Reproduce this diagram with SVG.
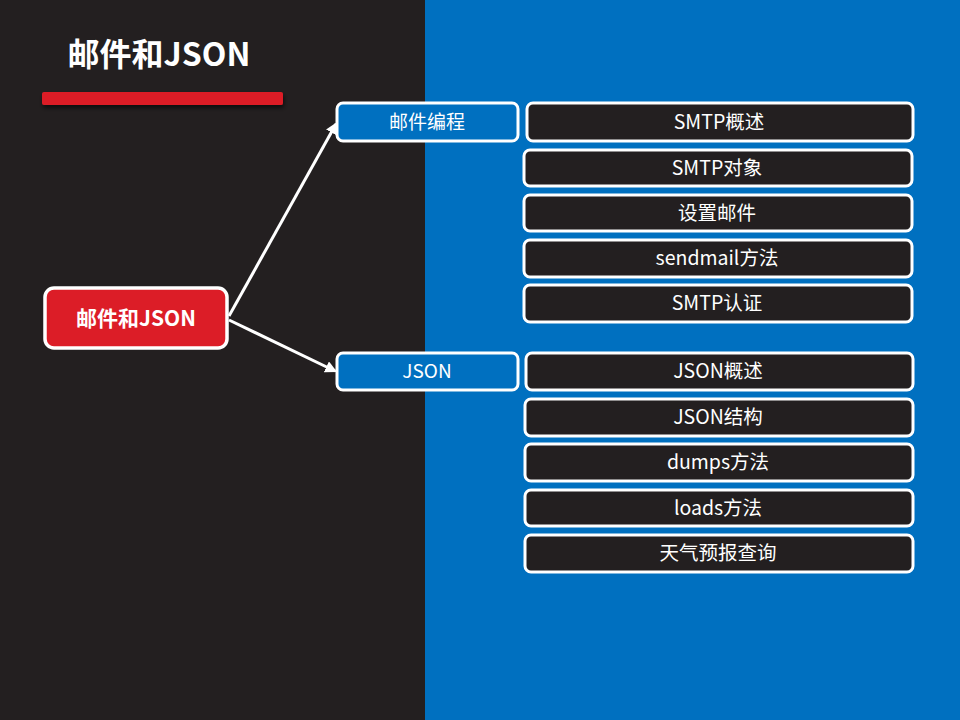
<svg xmlns="http://www.w3.org/2000/svg" width="960" height="720" viewBox="0 0 960 720">
<defs>
<style>
.t{font-family:"Noto Sans CJK SC","Microsoft YaHei",sans-serif;fill:#fff;text-anchor:middle;dominant-baseline:central}
.leaf rect{fill:#231F20;stroke:#fff;stroke-width:3}
.leaf text{font-size:19.5px}
.mid rect{fill:#0070C0;stroke:#fff;stroke-width:3}
.mid text{font-size:19px}
.conn{stroke:#fff;stroke-width:3;fill:none;marker-end:url(#ah)}
</style>
<marker id="ah" viewBox="0 0 10 10" refX="8" refY="5" markerWidth="4" markerHeight="4" orient="auto" markerUnits="strokeWidth">
<path d="M0,0 L10,5 L0,10 Z" fill="#fff"/>
</marker>
<filter id="sh" x="-10%" y="-50%" width="120%" height="250%">
<feDropShadow dx="1" dy="3" stdDeviation="2" flood-color="#000" flood-opacity="0.6"/>
</filter>
</defs>
<rect x="0" y="0" width="960" height="720" fill="#231F20"/>
<rect x="425" y="0" width="535" height="720" fill="#0070C0"/>
<g id="title">
<text class="t" x="159" y="51.5" style="font-size:32px;font-weight:bold">邮件和JSON</text>
<rect x="42" y="92" width="241" height="13" rx="2" fill="#DC1D27" filter="url(#sh)"/>
</g>
<g id="connectors">
<line class="conn" x1="229" y1="316" x2="336" y2="124"/>
<line class="conn" x1="229" y1="320" x2="335" y2="371"/>
</g>
<g id="root">
<rect x="45" y="288" width="182" height="60" rx="9" fill="#DC1D27" stroke="#fff" stroke-width="3.5"/>
<text class="t" x="136" y="316.5" style="font-size:21px;font-weight:bold">邮件和JSON</text>
</g>
<g id="mail" class="mid">
<rect x="337" y="103" width="181" height="38" rx="6"/>
<text class="t" x="427" y="120">邮件编程</text>
</g>
<g id="json" class="mid">
<rect x="337" y="353" width="181" height="37" rx="6"/>
<text class="t" x="427" y="369.5">JSON</text>
</g>
<g id="n1" class="leaf"><rect x="527" y="103" width="386" height="38" rx="6"/><text class="t" x="719" y="120">SMTP概述</text></g>
<g id="n2" class="leaf"><rect x="524" y="150" width="388" height="36" rx="6"/><text class="t" x="717" y="166">SMTP对象</text></g>
<g id="n3" class="leaf"><rect x="524" y="195" width="388" height="36" rx="6"/><text class="t" x="717" y="211">设置邮件</text></g>
<g id="n4" class="leaf"><rect x="524" y="240" width="388" height="37" rx="6"/><text class="t" x="717" y="256.5">sendmail方法</text></g>
<g id="n5" class="leaf"><rect x="524" y="285" width="388" height="37" rx="6"/><text class="t" x="717" y="301.5">SMTP认证</text></g>
<g id="n6" class="leaf"><rect x="526" y="353" width="387" height="37" rx="6"/><text class="t" x="718" y="369.5">JSON概述</text></g>
<g id="n7" class="leaf"><rect x="525" y="399" width="388" height="37" rx="6"/><text class="t" x="718" y="415.5">JSON结构</text></g>
<g id="n8" class="leaf"><rect x="525" y="444" width="388" height="37" rx="6"/><text class="t" x="718" y="460.5">dumps方法</text></g>
<g id="n9" class="leaf"><rect x="525" y="490" width="388" height="36" rx="6"/><text class="t" x="718" y="506">loads方法</text></g>
<g id="n10" class="leaf"><rect x="525" y="535" width="388" height="37" rx="6"/><text class="t" x="718" y="551.5">天气预报查询</text></g>
</svg>
